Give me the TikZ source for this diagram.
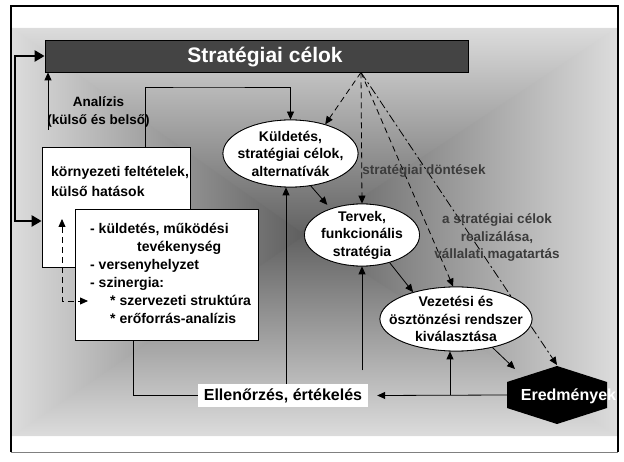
\documentclass[tikz,border=0pt]{standalone}
\usepackage{fontspec}
\setmainfont{Liberation Sans}
\usetikzlibrary{arrows.meta,shapes.geometric,calc}
\definecolor{barfill}{HTML}{444444}
\definecolor{shadeedge}{HTML}{DCDCDC}
\definecolor{shadecore}{HTML}{5E5E5E}
\definecolor{notegray}{HTML}{3C3C3C}

\begin{document}
\begin{tikzpicture}[x=1pt,y=-1pt,
  ln/.style={line width=0.8pt},
  arr/.style={ln,-{Triangle[length=8pt,width=7pt]}},
  dsharr/.style={ln,dash pattern=on 6pt off 4pt,-{Triangle[length=8pt,width=7pt]}},
  dshdot/.style={ln,dash pattern=on 9pt off 3pt on 2pt off 3pt,-{Triangle[length=8pt,width=7pt]}},
  dshboth/.style={ln,dash pattern=on 6pt off 4pt,{Triangle[length=8pt,width=7pt]}-{Triangle[length=8pt,width=7pt]}},
  fbk/.style={line width=2.5pt,{Triangle[length=10pt,width=11pt]}-{Triangle[length=10pt,width=11pt]}},
  txt/.style={font=\bfseries\fontsize{14}{17.5}\selectfont,align=center,inner sep=0pt},
  note/.style={txt,font=\bfseries\fontsize{13.5}{17.5}\selectfont,text=notegray},
  box/.style={draw=black,line width=0.8pt,fill=white,inner sep=0pt},
  ell/.style={ellipse,draw=black,line width=0.8pt,fill=white,inner sep=0pt}]
\useasboundingbox (0,0) rectangle (624,462);

% shaded panel: edge-to-core shading in four wedges; top and bottom wedges
% overlap the side wedges slightly so no seams show along the diagonals
\coordinate (gc) at (305,235);
\begin{scope}
  \clip (12,28) -- (617,28) -- (617,34) -- (305,241) -- (12,34) -- cycle;
  \shade[top color=shadeedge,bottom color=shadecore] (12,28) rectangle (617,241);
\end{scope}
\begin{scope}
  \clip (12,436) -- (617,436) -- (617,430) -- (305,229) -- (12,430) -- cycle;
  \shade[top color=shadecore,bottom color=shadeedge] (12,229) rectangle (617,436);
\end{scope}
\shade[left color=shadeedge,right color=shadecore] (12,28) -- (12,436) -- (gc) -- cycle;
\shade[left color=shadecore,right color=shadeedge] (617,28) -- (617,436) -- (gc) -- cycle;

% outer frame
\draw[line width=2pt] (11,452) -- (11,6) -- (618,6) -- (618,452);
\draw[gray,line width=1pt] (11,452) -- (618,452);

% headline bar
\node[draw=black,line width=0.8pt,fill=barfill,minimum width=423pt,minimum height=32pt,inner sep=0pt] (strat) at (256.5,56) {};
\node[font=\bfseries\fontsize{21}{25}\selectfont,text=white,inner sep=0pt] (strat-t) at (265,57.5) {Stratégiai célok};

% ellipses and boxes
\node[ell,minimum width=135pt,minimum height=67pt] (kuld) at (290.5,153.5) {};
\node[ell,minimum width=115pt,minimum height=62pt] (terv) at (362,235) {};
\node[ell,minimum width=152pt,minimum height=64pt] (vez) at (456,319) {};

% dashed decisions from the headline
\coordinate (apex) at ([xshift=104.5pt]strat.south);
\coordinate (ered-n) at (557,365);
\draw[dsharr] (apex) -- (kuld.40);
\draw[dsharr] (apex) -- (terv.north);
\draw[dsharr] (apex) -- (vez.95);
\draw[dshdot] (apex) -- (ered-n);

% redraw ellipses over the dashed lines
\node[ell,minimum width=135pt,minimum height=67pt] at (kuld) {};
\node[ell,minimum width=115pt,minimum height=62pt] at (terv) {};
\node[ell,minimum width=152pt,minimum height=64pt] at (vez) {};

\node[txt] (kuld-t) at (kuld) {Küldetés,\\stratégiai célok,\\alternatívák};
\node[txt] (terv-t) at (terv) {Tervek,\\funkcionális\\stratégia};
\node[txt] (vez-t) at (vez) {Vezetési és\\ösztönzési rendszer\\kiválasztása};

\node[box,minimum width=148.7pt,minimum height=120pt] (env) at (116.35,207) {};
\node[txt,align=left,anchor=north west,font=\bfseries\fontsize{14}{20}\selectfont] (env-t) at (51,166) {környezeti feltételek,\\külső hatások};

\node[box,minimum width=183pt,minimum height=131pt] (core) at (166.5,274.5) {};
\node[txt,align=left,anchor=north west,font=\bfseries\fontsize{14}{18}\selectfont] (core-t) at (90,223.5)
  {- küldetés, működési\\\hspace*{47pt}tevékenység\\- versenyhelyzet\\- szinergia:\\\hspace*{20pt}* szervezeti struktúra\\\hspace*{20pt}* erőforrás-analízis};

% results hexagon
\fill[black] (557,366) -- (607,382) -- (607,408) -- (557,424) -- (507,408) -- (507,382) -- cycle;
\node[font=\bfseries\fontsize{16}{19}\selectfont,text=white,inner sep=0pt] (ered) at (568.5,396) {Eredmények};
\coordinate (ered-w) at (507,395);
\coordinate (ered-nw) at (515,369);

% control label
\node[fill=white,minimum width=170pt,minimum height=23pt,inner sep=0pt,font=\bfseries\fontsize{16}{19}\selectfont] (ell) at (283,395.5) {Ellenőrzés, értékelés};

% side notes
\node[txt,font=\bfseries\fontsize{13.5}{18}\selectfont] (anl) at (98.5,112) {Analízis\\(külső és belső)};
\node[note] (dec) at (424,171) {stratégiai döntések};
\node[note] (real) at (497,237.5) {a stratégiai célok\\realizálása,\\vállalati magatartás};

% feedback bracket on the left
\coordinate (fb) at (15,140);
\coordinate (env-in) at ([yshift=-14pt]env.west);
\draw[fbk] (env-in) -| (fb) |- (strat.west);

% analysis arrow
\coordinate (anl-foot) at (48,130);
\draw[arr] (anl-foot) -- (anl-foot |- strat.south);

% loop from the environment box to the mission ellipse
\coordinate (loop-top) at (200,87);
\draw[arr] ([xshift=28.65pt]env.north) |- (loop-top) -| (kuld.north);

% internal dashed link
\coordinate (dsh-top) at (62,219);
\coordinate (dsh-end) at (88,301);
\draw[dshboth] (dsh-top) |- (dsh-end);

% chain between the ellipses and the results
\draw[arr,shorten >=5pt] (kuld.-58) -- (terv.140);
\draw[arr] (terv.-45) -- (vez.148);
\draw[arr] (vez.-38) -- (ered-nw);

% control feedback lines
\draw[ln] ([xshift=59pt]core.south west) |- (ell.west);
\draw[arr] ([xshift=3pt]ell.north) -- ([xshift=3pt]ell.north |- kuld.south);
\draw[arr] ([yshift=-104pt]terv.south) -- (terv.south);
\draw[arr] (ered-w) -- ([xshift=9pt]ell.east);
\draw[arr] ([xshift=-6pt]vez.south |- ered-w) -- ([xshift=-6pt]vez.south);
\end{tikzpicture}
\end{document}
